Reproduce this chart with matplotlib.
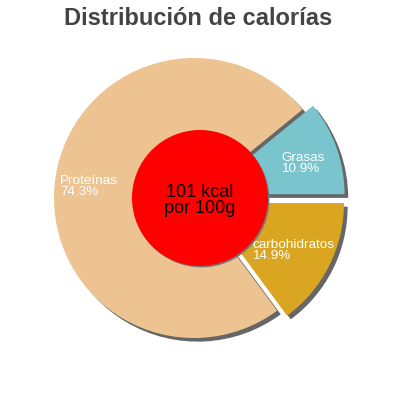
import numpy as np
import matplotlib.pyplot as plt
from matplotlib.patches import Circle

plt.rcParams['font.family'] = ['Liberation Sans', 'DejaVu Sans']

# data
categorias = ['Grasas', 'Proteínas', 'carbohidratos']
porcentajes = [10.9, 74.3, 14.9]
colores = ['#79c4cd', '#edc491', '#daa520']
separar = [0.08, 0.0, 0.08]
kcal = 101
titulo = 'Distribución de calorías'

# pixel geometry of reference -> data units
cx, cy, r = 194, 198, 140
def px(x, y):
    return ((x - cx) / r, (cy - y) / r)

# where each label's second line sits (baseline, left edge)
label_pos = [px(281, 172), px(60, 195), px(252, 259)]

fig = plt.figure(figsize=(4, 4), dpi=100)
ax = fig.add_axes([0, 0, 1, 1])

sh = 0.026
ax.pie(porcentajes, explode=separar, colors=['#666666'] * 3, startangle=0,
       center=(sh, -sh), wedgeprops=dict(linewidth=0))
wedges, _ = ax.pie(porcentajes, explode=separar, colors=colores, startangle=0,
                   wedgeprops=dict(linewidth=0))

for (x, y), nombre, p in zip(label_pos, categorias, porcentajes):
    ax.text(x, y, f'{nombre}\n{p:.1f}%', color='white', fontsize=9.7,
            ha='left', va='baseline', linespacing=0.9)

c = px(200, 198)
ax.add_patch(Circle((c[0] + 0.01, c[1] - 0.01), 68 / r, color='#777777', lw=0))
ax.add_patch(Circle(c, 68 / r, color='#ff0000', lw=0))
ax.text(c[0], px(0, 213)[1], f'{kcal} kcal\npor 100g', color='black', fontsize=13,
        ha='center', va='baseline', linespacing=0.92)

fig.text(198 / 400, 1 - 25 / 400, titulo, ha='center', va='baseline',
         fontsize=17, fontweight='bold', color='#444444')

ax.set_xlim((0 - cx) / r, (400 - cx) / r)
ax.set_ylim((cy - 400) / r, cy / r)
ax.axis('off')

fig.savefig('out.png', dpi=100)
